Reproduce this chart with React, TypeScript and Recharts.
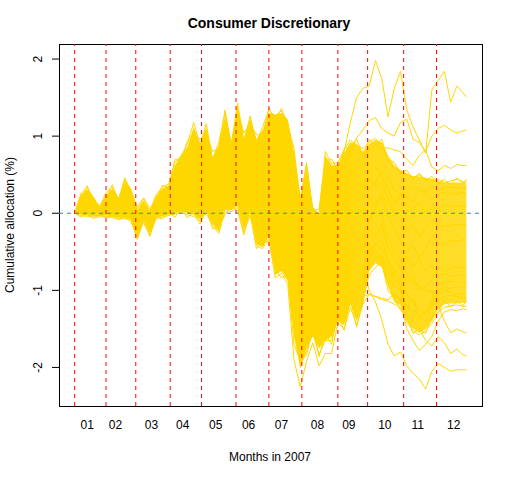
import React from 'react';
import { ComposedChart, Line, Area, XAxis, YAxis, ReferenceLine, ReferenceArea } from 'recharts';

const FONT = '"Liberation Sans", Arial, Helvetica, sans-serif';
const GOLD = '#FFD700';

// trading-day index (2007) of each sample
const tradingDays = [1,5,9,13,17,21,25,29,33,37,41,45,49,53,57,61,65,69,73,77,81,85,89,93,97,101,105,109,113,117,121,125,129,133,137,141,145,149,153,157,161,165,169,173,177,181,185,189,193,197,201,205,209,213,217,221,225,229,233,237,241,245,249,251];

// first trading day of each month
const monthStarts = [1,21,40,62,82,104,125,146,169,188,211,232];
const monthLabelDays = [9,27,50,70,91,112,133,156,176,199,220,243];
const monthLabels = ['01','02','03','04','05','06','07','08','09','10','11','12'];
const yTicks = [-2,-1,0,1,2];
const Y_MIN = -2.5;
const Y_MAX = 2.195;
const X_MIN = -9;
const X_MAX = 261;

// dense band envelope (hundredths of %)
const bandUpper = [0,24,31,22,7,24,32,20,42,32,4,16,2,22,32,36,
  62,76,86,112,90,112,72,88,126,92,140,96,124,96,108,130,
  128,130,122,75,20,58,8,0,75,62,63,78,92,90,80,90,
  95,92,75,62,56,52,48,48,46,45,42,40,40,40,40,40];
const bandLower = [0,-2,-3,-4,-4,-3,-5,-6,-6,-8,-32,-8,-26,-6,-4,-2,
  0,2,0,-2,-8,2,-14,-24,4,4,10,-22,0,-40,-44,-30,
  -80,-75,-88,-160,-200,-175,-160,-175,-165,-160,-140,-145,-118,-140,-120,-75,
  -65,-70,-95,-115,-120,-140,-150,-155,-150,-140,-125,-118,-117,-117,-116,-116];

// individual allocation paths (hundredths of %)
const pathT1 = [0,20,27,18,5,20,27,16,35,26,0,13,-2,17,26,31,
  52,65,74,96,78,96,60,72,108,80,122,80,106,78,88,108,
  100,100,92,50,-10,30,-15,-25,40,30,55,80,118,150,162,165,
  198,175,125,162,184,134,112,95,78,160,172,184,144,165,156,151];
const pathT2 = [0,16,21,14,4,16,21,12,28,20,-7,9,-6,14,21,25,
  43,54,60,78,61,79,46,54,89,66,104,61,87,58,62,82,
  72,67,61,11,-46,-12,-42,-53,3,-5,40,62,80,98,108,120,
  124,110,104,100,118,122,96,92,80,100,110,114,108,104,107,108];
const pathB1 = [0,6,7,4,-1,5,6,2,8,4,-21,-1,-18,2,7,9,
  19,24,26,32,21,35,12,10,41,30,56,13,37,8,2,18,
  -4,-17,-19,-81,-134,-105,-110,-123,-93,-93,-79,-78,-55,-71,-70,-100,
  -115,-138,-170,-185,-180,-198,-208,-215,-228,-205,-195,-200,-205,-203,-203,-203];
const pathB2 = [0,3,2,1,-2,1,0,-2,2,-2,-26,-4,-21,-1,2,5,
  12,16,16,20,10,22,2,-2,28,20,44,0,24,-4,-12,2,
  -22,-38,-40,-104,-160,-130,-128,-142,-118,-116,-100,-102,-80,-95,-82,-50,
  -40,-45,-62,-85,-95,-130,-140,-150,-165,-172,-160,-168,-182,-176,-184,-185];
const pathB3 = [0,10,12,8,1,9,12,6,15,10,-16,3,-14,6,12,15,
  28,36,39,50,37,52,26,26,60,44,74,32,56,26,24,42,
  24,14,10,-45,-100,-70,-85,-97,-57,-60,-48,-42,-22,-35,-30,-10,
  2,-5,-30,-50,-60,-78,-90,-95,-100,-102,-120,-140,-155,-150,-154,-155];
const pathB4 = [0,0,-1,-2,-3,-1,-2,-4,-2,-5,-30,-6,-24,-4,-1,1,
  4,8,6,8,0,9,-8,-16,12,10,30,-14,8,-20,-32,-20,
  -50,-70,-70,-140,-200,-178,-155,-183,-165,-165,-128,-135,-105,-128,-108,-70,
  -58,-62,-90,-108,-112,-150,-165,-178,-170,-160,-140,-128,-125,-126,-124,-125];
const pathB5 = [0,4,5,2,-2,3,3,0,5,1,-24,-3,-19,1,4,7,
  15,20,21,26,16,28,7,4,34,24,50,6,30,2,-5,10,
  -14,-28,-30,-93,-148,-118,-118,-132,-106,-104,-90,-96,-100,-115,-108,-105,
  -108,-110,-112,-105,-110,-118,-125,-132,-128,-120,-112,-108,-106,-108,-110,-110];
const pathH1 = [0,14,18,12,3,14,18,10,24,17,-10,7,-8,11,18,21,
  37,47,52,67,51,68,38,43,77,57,92,49,75,45,47,66,
  53,46,41,-12,-68,-35,-58,-70,-20,-25,10,30,55,60,70,82,
  88,84,85,82,80,70,62,75,82,60,55,62,58,63,62,62];
const pathHiA = [0,26,33,20,8,27,34,18,44,30,6,18,3,24,34,38,
  66,74,90,118,88,116,70,92,130,90,143,94,126,92,112,134,
  126,133,118,76,18,62,6,-2,80,64,66,82,95,88,84,92,
  97,88,70,58,52,50,46,50,44,42,44,40,42,44,41,42];
const pathHiB = [0,18,36,14,10,20,37,16,46,26,8,20,6,18,36,33,
  70,68,94,104,96,104,80,84,134,86,132,104,116,102,100,136,
  120,136,114,84,14,66,2,6,68,70,56,84,86,96,74,96,
  88,96,70,66,52,56,44,52,42,48,38,44,36,46,38,44];
const pathLoA = [0,-3,-4,-5,-5,-4,-6,-7,-7,-9,-34,-9,-28,-7,-5,-3,
  -1,1,-2,-4,-10,0,-16,-26,2,2,8,-25,-3,-42,-46,-33,
  -84,-78,-92,-190,-225,-192,-168,-198,-182,-182,-142,-150,-122,-145,-118,-105,
  -108,-112,-114,-118,-122,-142,-152,-158,-152,-143,-128,-122,-120,-119,-121,-120];
const pathLoB = [0,-5,-1,-7,-2,-6,-3,-9,-4,-12,-28,-12,-30,-3,-8,1,
  -5,6,-6,2,-14,6,-20,-18,-2,8,4,-28,6,-46,-38,-36,
  -72,-84,-80,-170,-192,-184,-150,-186,-156,-170,-132,-152,-110,-148,-112,-80,
  -70,-64,-100,-110,-126,-134,-156,-150,-156,-134,-130,-112,-122,-114,-120,-113];
const pathM1 = [0,11,14,9,2,11,14,7,18,12,-14,4,-12,8,14,17,
  31,39,43,55,41,57,29,32,65,48,80,37,62,33,32,50,
  34,25,21,-35,-90,-59,-76,-88,-45,-49,-30,-20,5,-15,-5,20,
  10,25,-5,-20,-35,-50,-40,-60,-45,-30,-38,-42,-35,-36,-34,-35];
const pathM2 = [0,8,9,6,0,7,8,3,11,6,-19,1,-16,4,9,11,
  22,28,30,37,25,40,16,16,47,34,62,19,43,14,10,26,
  6,-6,-9,-70,-123,-94,-101,-113,-81,-82,-70,-60,-40,-55,-45,-20,
  -30,-15,-45,-60,-72,-90,-80,-100,-95,-85,-70,-75,-72,-70,-71,-70];
const pathM3 = [0,17,23,15,4,17,23,13,30,22,-5,10,-5,15,23,27,
  46,57,64,83,66,85,50,60,95,70,110,67,93,64,70,90,
  81,77,72,22,-35,0,-34,-44,15,10,15,30,45,30,35,55,
  60,50,30,15,20,10,5,15,0,10,5,12,8,10,9,10];
const pathM4 = [0,3,4,1,-2,2,2,-1,3,0,-25,-3,-20,0,3,6,
  12,17,17,21,12,24,3,-2,28,22,46,2,26,-3,-13,3,
  -22,-38,-40,-105,-158,-128,-126,-140,-117,-115,-95,-88,-70,-85,-75,-45,
  -50,-55,-75,-90,-85,-105,-118,-125,-130,-118,-100,-96,-98,-95,-96,-95];
const pathM5 = [0,15,19,13,3,14,19,10,25,17,-9,7,-8,12,19,22,
  38,48,53,70,54,69,40,44,80,58,93,48,76,46,50,68,
  58,50,44,-8,-62,-30,-55,-65,-15,-20,0,15,30,45,38,30,
  40,55,45,30,25,28,35,30,25,20,24,28,26,25,27,26];
const pathM6 = [0,22,29,20,6,22,30,18,39,29,2,15,0,20,30,34,
  58,72,82,106,85,106,67,82,120,88,134,88,118,88,100,120,
  110,112,105,60,0,40,-5,-15,55,45,20,10,-15,-30,-45,-40,
  -60,-55,-70,-80,-65,-55,-70,-60,-75,-68,-80,-78,-82,-80,-81,-80];
const pathM7 = [0,1,0,-1,-3,0,-1,-3,-1,-4,-28,-6,-23,-3,0,2,
  6,9,9,9,2,13,-5,-13,16,13,32,-10,12,-17,-29,-14,
  -41,-59,-60,-127,-178,-152,-143,-158,-141,-138,-110,-90,-60,-40,-30,-10,
  10,20,15,10,25,20,15,30,28,35,30,32,34,33,32,33];
const pathM8 = [0,9,11,7,1,8,10,5,13,8,-18,2,-15,5,11,13,
  25,32,34,44,31,46,22,22,53,39,68,25,49,20,17,34,
  15,4,1,-58,-112,-82,-93,-105,-69,-71,-60,-70,-85,-100,-90,-60,
  -40,-35,-60,-75,-95,-120,-110,-135,-140,-120,-105,-100,-102,-105,-104,-104];
const pathM9 = [0,12,16,10,2,12,16,8,21,14,-12,5,-10,10,16,19,
  34,43,47,62,46,63,34,38,72,53,86,43,68,39,40,58,
  44,38,32,-20,-75,-45,-65,-78,-30,-35,-15,0,20,10,25,45,
  35,40,20,0,-10,-25,-15,-30,-20,-10,-15,-18,-16,-14,-15,-15];
const pathM10 = [0,2,3,0,-2,1,1,-2,2,-2,-27,-4,-21,-1,2,4,
  10,14,14,16,8,19,-2,-6,24,18,40,-4,20,-8,-20,-5,
  -30,-45,-50,-118,-170,-140,-135,-150,-128,-125,-115,-120,-95,-110,-95,-65,
  -55,-60,-85,-95,-100,-120,-130,-140,-128,-112,-92,-90,-88,-90,-89,-90];

const paths = [pathM1, pathM2, pathM3, pathM4, pathM5, pathM6, pathM7, pathM8, pathM9, pathM10,
  pathH1, pathHiA, pathHiB, pathLoA, pathLoB, pathB5, pathB4, pathB3, pathB2, pathB1, pathT2, pathT1];

const data = tradingDays.map((day, i) => {
  const row: Record<string, any> = { day, band: [bandLower[i] / 100, bandUpper[i] / 100] };
  paths.forEach((p, j) => { row['s' + j] = p[i] / 100; });
  return row;
});

const labelFor = (v: number) => monthLabels[monthLabelDays.indexOf(v)] ?? '';

const YTick = (props: any) => {
  const { x, y, payload } = props;
  const bx = x - 10;
  return (
    <text x={bx} y={y} transform={`rotate(-90, ${bx}, ${y})`} textAnchor="middle"
      fontSize={12} fontFamily={FONT} fill="#000">{String(payload.value)}</text>
  );
};

const textBase: React.CSSProperties = {
  position: 'absolute', transform: 'translate(-50%, -50%)', whiteSpace: 'nowrap',
  fontFamily: FONT, lineHeight: 1, color: '#000',
};

export default function App() {
  return (
    <div style={{ position: 'absolute', left: 0, top: 0, width: 512, height: 480, background: '#fff' }}>
      <ComposedChart width={512} height={480} data={data} margin={{ top: 44, right: 30, left: 0, bottom: 0 }}>
        <defs>
          <linearGradient id="bandFill" x1="0" y1="0" x2="1" y2="0">
            <stop offset="0" stopColor={GOLD} stopOpacity={1} />
            <stop offset="0.66" stopColor={GOLD} stopOpacity={1} />
            <stop offset="0.75" stopColor={GOLD} stopOpacity={0.9} />
            <stop offset="1" stopColor={GOLD} stopOpacity={0.84} />
          </linearGradient>
        </defs>
        <XAxis xAxisId="m" type="number" dataKey="day" domain={[X_MIN, X_MAX]} allowDataOverflow
          ticks={monthStarts} tick={false} axisLine={false} tickSize={5} height={5}
          tickLine={{ stroke: '#FF0000', strokeDasharray: '4 4' }} />
        <XAxis xAxisId="lab" type="number" dataKey="day" domain={[X_MIN, X_MAX]} allowDataOverflow
          ticks={monthLabelDays} tickFormatter={labelFor} axisLine={false} tickLine={false}
          tickSize={12} tickMargin={2} height={69} interval={0}
          tick={{ fill: '#000', fontSize: 12, fontFamily: FONT }} />
        <YAxis type="number" domain={[Y_MIN, Y_MAX]} allowDataOverflow ticks={yTicks} width={59}
          axisLine={false} tickSize={7} tickMargin={0} tickLine={{ stroke: '#000' }} tick={<YTick />} interval={0} />
        <Area xAxisId="m" dataKey="band" type="linear" stroke="none" fill="url(#bandFill)"
          fillOpacity={1} isAnimationActive={false} dot={false} activeDot={false} />
        {paths.map((_, j) => (
          <Line key={'s' + j} xAxisId="m" dataKey={'s' + j} type="linear" stroke={GOLD} strokeWidth={1}
            dot={false} activeDot={false} isAnimationActive={false} />
        ))}
        {monthStarts.map((d) => (
          <ReferenceLine key={'seg' + d} xAxisId="m" ifOverflow="visible"
            segment={[{ x: d, y: Y_MIN }, { x: d, y: Y_MAX }]}
            stroke="#FF0000" strokeDasharray="4 4" strokeWidth={1} />
        ))}
        <ReferenceLine xAxisId="m" ifOverflow="visible" segment={[{ x: X_MIN, y: 0 }, { x: X_MAX, y: 0 }]}
          stroke="#4A7DB0" strokeDasharray="4 4" strokeWidth={1} />
        <ReferenceArea xAxisId="m" x1={X_MIN} x2={X_MAX} y1={Y_MIN} y2={Y_MAX} fill="none" stroke="#000"
          strokeWidth={1} ifOverflow="visible" shapeRendering="crispEdges" />
      </ComposedChart>
      <div style={{ ...textBase, left: 269, top: 23, fontSize: 14, fontWeight: 'bold' }}>Consumer Discretionary</div>
      <div style={{ ...textBase, left: 270, top: 457, fontSize: 12 }}>Months in 2007</div>
      <div style={{ ...textBase, left: 10, top: 225, fontSize: 12, transform: 'translate(-50%, -50%) rotate(-90deg)' }}>Cumulative allocation (%)</div>
    </div>
  );
}
